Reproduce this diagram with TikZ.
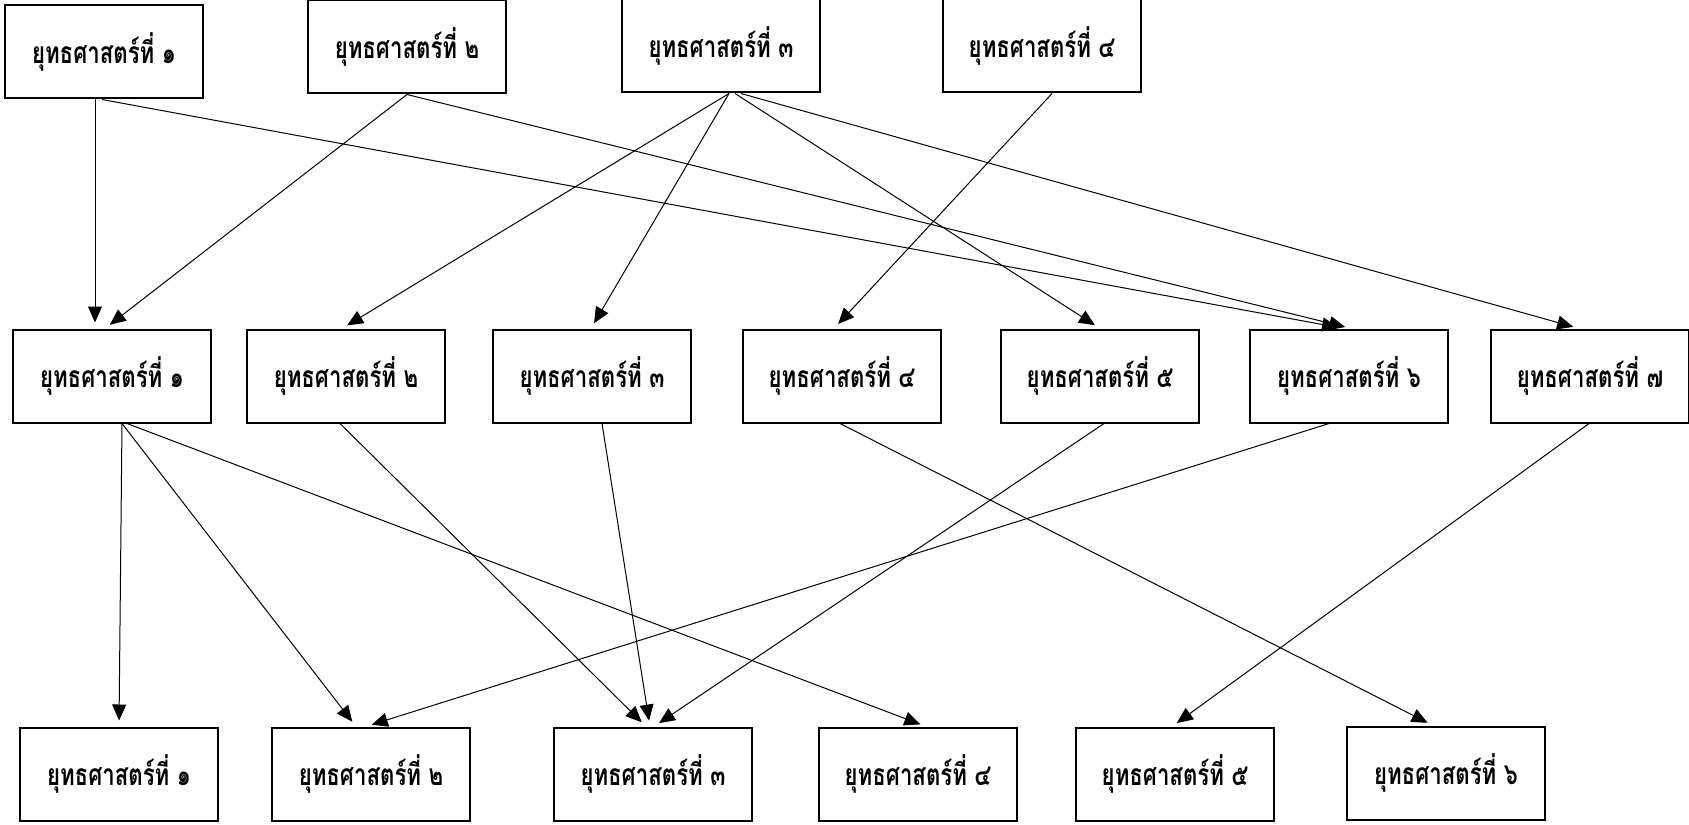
\documentclass[tikz,border=0pt]{standalone}
\usepackage{fontspec}
\newfontfamily\thaifont[Script=Thai, FakeStretch=0.74]{Loma}
\usetikzlibrary{arrows.meta}

\begin{document}
\begin{tikzpicture}[
    x=0.5pt, y=-0.5pt,
    strat-box/.style={draw, line width=1pt, minimum width=99pt, minimum height=46.5pt, inner sep=0pt, font=\thaifont\bfseries\fontsize{15pt}{17pt}\selectfont},
    strat-arr/.style={line width=0.5pt, -{Triangle[length=8pt, width=7pt]}, shorten >=3pt}
  ]
\useasboundingbox (0,0) rectangle (1689,824);

% Top row
\node[strat-box] (t1) at (104,52) {ยุทธศาสตร์ที่ ๑};
\node[strat-box] (t2) at (407,47) {ยุทธศาสตร์ที่ ๒};
\node[strat-box] (t3) at (721,46) {ยุทธศาสตร์ที่ ๓};
\node[strat-box] (t4) at (1042,46) {ยุทธศาสตร์ที่ ๔};

% Middle row
\node[strat-box] (m1) at (112,376) {ยุทธศาสตร์ที่ ๑};
\node[strat-box] (m2) at (346,376) {ยุทธศาสตร์ที่ ๒};
\node[strat-box] (m3) at (592,376) {ยุทธศาสตร์ที่ ๓};
\node[strat-box] (m4) at (842,376) {ยุทธศาสตร์ที่ ๔};
\node[strat-box] (m5) at (1100,376) {ยุทธศาสตร์ที่ ๕};
\node[strat-box] (m6) at (1349,376) {ยุทธศาสตร์ที่ ๖};
\node[strat-box] (m7) at (1590,376) {ยุทธศาสตร์ที่ ๗};

% Bottom row
\node[strat-box] (b1) at (119,774) {ยุทธศาสตร์ที่ ๑};
\node[strat-box] (b2) at (371,774) {ยุทธศาสตร์ที่ ๒};
\node[strat-box] (b3) at (653,774) {ยุทธศาสตร์ที่ ๓};
\node[strat-box] (b4) at (918,774) {ยุทธศาสตร์ที่ ๔};
\node[strat-box] (b5) at (1175,774) {ยุทธศาสตร์ที่ ๕};
\node[strat-box] (b6) at (1446,773) {ยุทธศาสตร์ที่ ๖};

% Top to middle
\draw[strat-arr] ([xshift=-4.5pt]t1.south) -- ([xshift=-8.5pt]m1.north);
\draw[strat-arr] ([xshift=-1pt]t1.south) -- ([xshift=-2.5pt]m6.north);
\draw[strat-arr] (t2.south) -- ([xshift=-3.5pt]m1.north);
\draw[strat-arr] (t2.south) -- ([xshift=1pt]m6.north);
\draw[strat-arr] ([xshift=4pt]t3.south) -- ([xshift=-2pt]m2.north);
\draw[strat-arr] ([xshift=4pt]t3.south) -- ([xshift=-0.5pt]m3.north);
\draw[strat-arr] ([xshift=7pt]t3.south) -- (m5.north);
\draw[strat-arr] ([xshift=10pt]t3.south) -- ([xshift=-5.5pt]m7.north);
\draw[strat-arr] ([xshift=5pt]t4.south) -- ([xshift=-4pt]m4.north);

% Middle to bottom
\draw[strat-arr] ([xshift=5pt]m1.south) -- (b1.north);
\draw[strat-arr] ([xshift=5pt]m1.south) -- ([xshift=-7.5pt]b2.north);
\draw[strat-arr] ([xshift=7.5pt]m1.south) -- ([xshift=4pt]b4.north);
\draw[strat-arr] ([xshift=-3pt]m2.south) -- ([xshift=-3.5pt]b3.north);
\draw[strat-arr] ([xshift=5pt]m3.south) -- ([xshift=-1.5pt]b3.north);
\draw[strat-arr] ([xshift=-1pt]m4.south) -- ([xshift=-6.5pt]b6.north);
\draw[strat-arr] ([xshift=2pt]m5.south) -- ([xshift=0.5pt]b3.north);
\draw[strat-arr] ([xshift=-10pt]m6.south) -- ([xshift=-2.5pt]b2.north);
\draw[strat-arr] ([xshift=-0.5pt]m7.south) -- ([xshift=-1.5pt]b5.north);

\end{tikzpicture}
\end{document}
